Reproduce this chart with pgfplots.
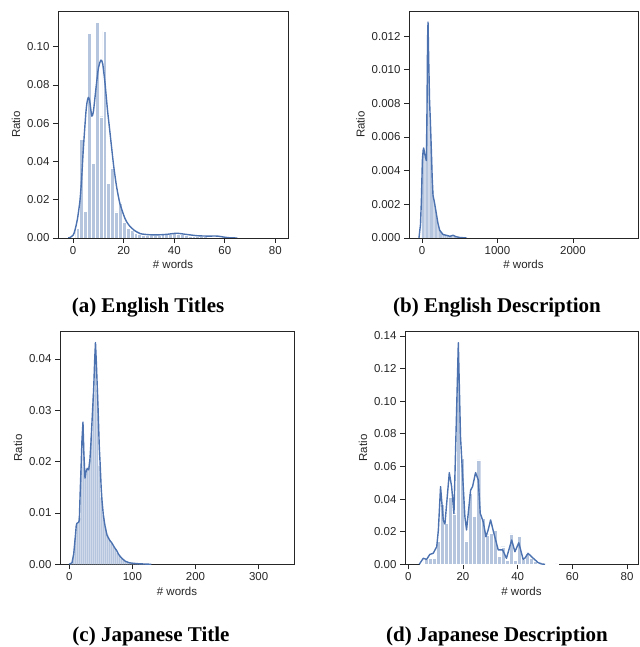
\documentclass[border=0pt]{standalone}
\usepackage{fontspec}
\setmainfont{Liberation Sans}
\newfontfamily\capfont{Liberation Serif}
\usepackage{pgfplots}
\pgfplotsset{compat=1.18}
\definecolor{barc}{HTML}{B5C5DE}
\definecolor{linec}{HTML}{4C72B0}
\definecolor{spine}{HTML}{262626}
\pgfplotsset{
  dp/.style={
    scale only axis, anchor=south west,
    axis line style={spine, line width=0.9pt},
    tick style={spine, line width=0.8pt},
    major tick length=5pt, tick align=outside,
    xtick pos=bottom, ytick pos=left,
    ticklabel style={font=\fontsize{11.5}{13}\selectfont, text=spine},
    label style={font=\fontsize{11.5}{13}\selectfont, text=spine},
    xlabel={\# words}, ylabel={Ratio},
    scaled ticks=false,
    /pgf/number format/assume math mode=true,
    xticklabel style={/pgf/number format/1000 sep={}},
    ymin=0, clip=true,
    xlabel style={yshift=1pt},
  },
  bars/.style={ybar, bar shift=0pt, fill=barc, draw=white, line width=0.4pt},
  nbars/.style={ybar, bar shift=0pt, fill=barc, draw=none},
  kde/.style={linec, line width=1.4pt, line join=round},
}
\begin{document}
\begin{tikzpicture}[x=1pt,y=1pt]
\path[use as bounding box] (0,0) rectangle (639,647);

% (a) English Titles
\begin{axis}[dp, at={(58pt,409pt)}, width=230pt, height=227pt,
  xmin=-6, xmax=85, ymax=0.1187,
  xtick={0,20,40,60,80}, ytick={0,0.02,0.04,0.06,0.08,0.10},
  yticklabel style={/pgf/number format/.cd, fixed, fixed zerofill, precision=2}]
\addplot[bars, bar width=1.53] coordinates {
(1.77,0.005) (3.30,0.0515) (4.83,0.014) (6.36,0.107) (7.89,0.039)
(9.42,0.1126) (10.95,0.0634) (12.48,0.108) (14.01,0.0285) (15.54,0.0367)
(17.07,0.0136) (18.60,0.0183) (20.13,0.0084) (21.66,0.005) (23.19,0.004)
(24.72,0.0025) (26.25,0.0018) (27.78,0.0015) (29.31,0.0012) (30.84,0.0012)
(32.37,0.0013) (33.90,0.0015) (35.43,0.0018) (36.96,0.002) (38.49,0.0022)
(40.02,0.0024) (41.55,0.0022) (43.08,0.0018) (44.61,0.0014) (46.14,0.0011)
(47.67,0.0009) (49.20,0.0008) (50.73,0.0007) (52.26,0.0007) (53.79,0.0006)
(55.32,0.0006) (56.85,0.0005) (58.38,0.0004) (59.91,0.0003)
};
\addplot[kde, smooth, tension=0.4] coordinates {
(-2,0) (-1.3,0.0002) (0,0.0015) (0.7,0.004) (1.7,0.01) (2.7,0.0197) (3.3,0.03)
(4,0.046) (5,0.065) (5.5,0.071) (6,0.0735) (6.5,0.072) (7,0.067) (7.4,0.0637)
(8,0.066) (9,0.078) (10,0.089) (11,0.093) (11.7,0.091) (12.6,0.081) (13.5,0.068)
(14.6,0.0547) (16,0.038) (17.2,0.0267) (18.5,0.018) (20.5,0.0102) (22,0.0068)
(24,0.0042) (26.5,0.0023) (30,0.0017) (33,0.0016) (37,0.0019) (41,0.0025)
(44,0.002) (49,0.0012) (53,0.001) (57,0.001) (60,0.0004) (62,0.0001) (65,0)
};
\end{axis}

% (b) English Description
\begin{axis}[dp, at={(409pt,409pt)}, width=229pt, height=227pt,
  xmin=-172, xmax=2861, ymax=0.01349,
  xtick={0,1000,2000}, ytick={0,0.002,0.004,0.006,0.008,0.010,0.012},
  yticklabel style={/pgf/number format/.cd, fixed, fixed zerofill, precision=3}]
\addplot[nbars, bar width=12.5] coordinates {
(5,0.0045) (22.5,0.0052) (40,0.0048) (57.5,0.0055) (75,0.0120) (92.5,0.0098)
(110,0.0068) (127.5,0.0048) (145,0.0028) (162.5,0.0022) (180,0.0017)
(197.5,0.0012) (215,0.0008) (232.5,0.0005) (250,0.0004) (267.5,0.0003)
(285,0.00025) (302.5,0.0002) (320,0.00018) (337.5,0.00015) (355,0.00013)
(372.5,0.0001) (390,0.00012) (407.5,0.00014) (425,0.0001) (442.5,0.00008)
(460,0.00006) (477.5,0.00005) (495,0.00004) (512.5,0.00003) (530,0.00003)
(547.5,0.00002) (565,0.00002) (582.5,0.00002) (600,0.00001)
};
\addplot[kde] coordinates {
(-40,0) (-20,0.0008) (-8,0.0022) (5,0.0046) (15,0.0052) (22.5,0.00535)
(40,0.0049) (58,0.0046) (66,0.0075) (74,0.0118) (80,0.01283) (88,0.0108)
(100,0.0082) (112,0.0068) (124,0.0052) (135,0.0036) (146,0.00254)
(168,0.00204) (190,0.00145) (210,0.0009) (234,0.00046) (280,0.0002)
(323,0.00016) (370,0.0001) (411,0.00016) (450,0.00008) (500,0.00003) (590,0)
};
\end{axis}

% (c) Japanese Title
\begin{axis}[dp, at={(60pt,82.7pt)}, width=234pt, height=232.6pt,
  xmin=-14.7, xmax=356, ymax=0.04532,
  xtick={0,100,200,300}, ytick={0,0.01,0.02,0.03,0.04},
  yticklabel style={/pgf/number format/.cd, fixed, fixed zerofill, precision=2}]
\addplot[nbars, bar width=2.4] coordinates {
(3,0.0001) (6.2,0.0015) (9.4,0.005) (12.6,0.0078) (15.8,0.009) (19,0.019)
(22.2,0.024) (25.4,0.0175) (28.6,0.0185) (31.8,0.02) (35,0.025) (38.2,0.033)
(41.4,0.04) (44.6,0.034) (47.8,0.0192) (51,0.013) (54.2,0.0095) (57.4,0.0072)
(60.6,0.0058) (63.8,0.0048) (67,0.004) (70.2,0.0035) (73.4,0.003) (76.6,0.0022)
(79.8,0.0016) (83,0.0011) (86.2,0.0008) (89.4,0.0006) (92.6,0.0004)
(95.8,0.0003) (99,0.0002) (102.2,0.00015) (105.4,0.0001) (108.6,0.0001)
(111.8,0.0001) (115,0.00008) (118.2,0.00005) (121.4,0.00004) (124.6,0.00003)
(127.8,0.00002)
};
\addplot[kde] coordinates {
(0,0) (4.3,0.0003) (7,0.002) (9.5,0.0053) (11,0.0075) (12.2,0.008)
(14.9,0.0082) (15.9,0.0086) (17.4,0.0145) (19,0.02) (20.1,0.0242)
(21.7,0.0277) (23,0.022) (24.9,0.0168) (26.5,0.018) (28.5,0.0187)
(30.7,0.0184) (32.5,0.02) (34.4,0.0238) (36.5,0.029) (38.6,0.034)
(40.3,0.04) (41.5,0.0432) (43,0.039) (45.5,0.0307) (47.5,0.023) (49.1,0.019)
(50.5,0.015) (51.8,0.0125) (54,0.0095) (57,0.0072) (60,0.0056) (64,0.0047)
(67.7,0.0041) (72,0.0032) (75,0.0027) (78.3,0.0019) (83,0.0012) (88.7,0.0006)
(95,0.0003) (101,0.0002) (110,0.0001) (120,0.00005) (130,0)
};
\end{axis}

% (d) Japanese Description
\begin{axis}[dp, at={(405pt,82.7pt)}, width=233pt, height=232.6pt,
  xmin=-1.2, xmax=84, ymax=0.1426,
  xtick={0,20,40,60,80}, ytick={0,0.02,0.04,0.06,0.08,0.10,0.12,0.14},
  yticklabel style={/pgf/number format/.cd, fixed, fixed zerofill, precision=2}]
\addplot[bars, bar width=1.485, line width=0.3pt] coordinates {
(4.94,0.0007) (6.42,0.003) (7.91,0.0035) (9.39,0.0037) (10.88,0.0139)
(12.36,0.037) (13.85,0.025) (15.33,0.041) (16.82,0.031) (18.30,0.117)
(19.79,0.065) (21.27,0.0143) (22.76,0.0435) (24.25,0.0296) (25.73,0.064)
(27.22,0.028) (28.70,0.018) (30.19,0.019) (31.67,0.021) (33.16,0.0047)
(34.64,0.0108) (36.13,0.0025) (37.61,0.0186) (39.10,0.0025) (40.58,0.017)
(42.07,0.003) (43.55,0.007) (45.04,0.004) (46.52,0.002) (48.01,0.001)
(49.49,0.0006) (50.98,0.0005) (52.46,0.0004) (53.95,0.0003)
};
\addplot[kde] coordinates {
(4,0) (5.5,0.0037) (6.7,0.003) (7.9,0.0061) (9.1,0.0067) (10.4,0.0108)
(11,0.021) (11.8,0.0476) (12.8,0.027) (13.4,0.0247) (15,0.0562) (15.85,0.0476)
(16.7,0.031) (18.3,0.1358) (19.1,0.0782) (20.7,0.0292) (21.3,0.021)
(22.8,0.0455) (23.5,0.0476) (24.6,0.0562) (25.6,0.0517) (26.3,0.0313)
(27.4,0.0261) (28.4,0.0169) (29.2,0.021) (30.1,0.0272) (31.3,0.019)
(32.9,0.0088) (34.5,0.0088) (35.9,0.0037) (37.8,0.0149) (39,0.0077)
(40.4,0.0132) (42,0.003) (42.6,0.0037) (43.8,0.0067) (45.7,0.0037)
(47.5,0.001) (48.7,0.0002) (50,0)
};
\end{axis}

\node[font=\capfont\bfseries\fontsize{21}{24}\selectfont] at (148,339) {(a) English Titles};
\node[font=\capfont\bfseries\fontsize{21}{24}\selectfont] at (497,339) {(b) English Description};
\node[font=\capfont\bfseries\fontsize{21}{24}\selectfont] at (151,11) {(c) Japanese Title};
\node[font=\capfont\bfseries\fontsize{21}{24}\selectfont] at (497,11) {(d) Japanese Description};
\end{tikzpicture}
\end{document}
